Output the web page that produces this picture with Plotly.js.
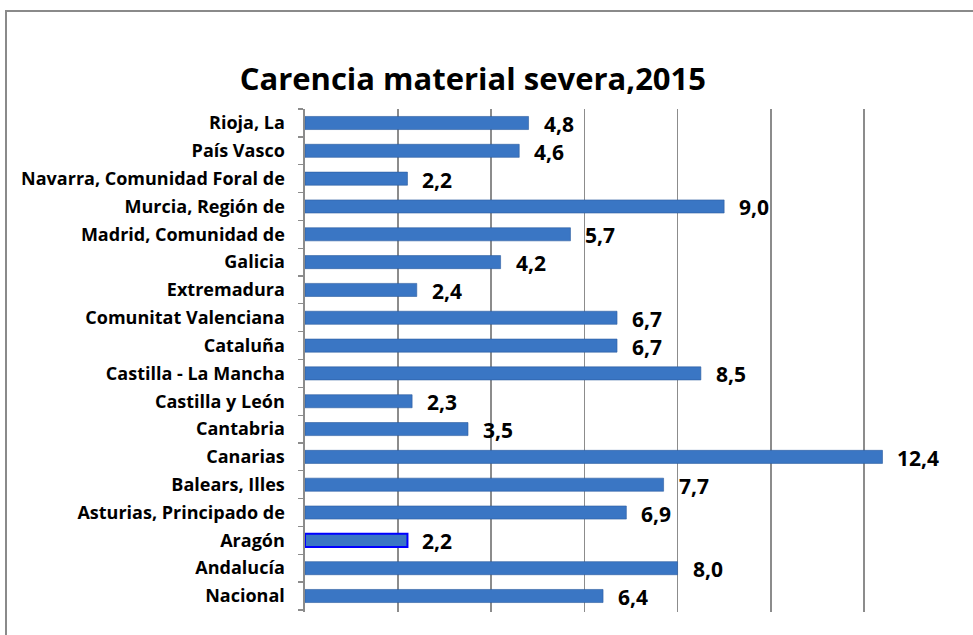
<!DOCTYPE html>
<html>
<head>
<meta charset="utf-8">
<script src="https://cdn.plot.ly/plotly-3.0.1.min.js"></script>
<style>
html,body{margin:0;padding:0;background:#fff;overflow:hidden;}
#frame{position:absolute;left:5px;top:10px;width:1100px;height:800px;border:2px solid #8a8a8a;}
#chart{position:absolute;left:0;top:0;width:973px;height:635px;}
</style>
</head>
<body>
<div id="frame"></div>
<div id="chart"></div>
<script>
const categories = ["Nacional","Andalucía","Aragón","Asturias, Principado de","Balears, Illes","Canarias","Cantabria","Castilla y León","Castilla - La Mancha","Cataluña","Comunitat Valenciana","Extremadura","Galicia","Madrid, Comunidad de","Murcia, Región de","Navarra, Comunidad Foral de","País Vasco","Rioja, La"];
const values = [6.4,8.0,2.2,6.9,7.7,12.4,3.5,2.3,8.5,6.7,6.7,2.4,4.2,5.7,9.0,2.2,4.6,4.8];
const labels = values.map(v => v.toFixed(1).replace('.', ','));
const highlight = "Aragón";

const fillColors = categories.map(c => "#3a76c4");
const lineColors = categories.map(c => c === highlight ? "#0000ff" : "#2c5d9f");
const lineWidths = categories.map(c => c === highlight ? 2 : 0.6);

const font = "'Open Sans', sans-serif";

const trace = {
  type: "bar",
  orientation: "h",
  y: categories,
  x: values,
  width: 0.47,
  marker: {color: fillColors, line: {color: lineColors, width: lineWidths}},
  hoverinfo: "none"
};

const annotations = categories.map((c, i) => ({
  x: values[i], y: c, xref: "x", yref: "y",
  text: labels[i], showarrow: false, borderpad: 0,
  xanchor: "left", xshift: 14, yshift: -1,
  font: {family: font, size: 21, color: "#000", weight: "bold"}
}));

const layout = {
  width: 973, height: 635,
  margin: {l: 305, r: 16, t: 109, b: 23},
  paper_bgcolor: "rgba(0,0,0,0)",
  plot_bgcolor: "rgba(0,0,0,0)",
  showlegend: false,
  title: {text: "<b>Carencia material severa,2015</b>", x: 0.486, xanchor: "center", y: 0.875, yanchor: "middle",
          font: {family: font, size: 31, color: "#000"}},
  xaxis: {range: [0, 14], dtick: 2, showticklabels: false, showgrid: true,
          gridcolor: "#8c8c8c", gridwidth: 1.6, zeroline: false, showline: false, fixedrange: true},
  yaxis: {type: "category", showline: true, linecolor: "#8c8c8c", linewidth: 1.6,
          ticks: "outside", ticklen: 5, tickcolor: "#8c8c8c", tickwidth: 1.2, tickson: "boundaries",
          ticklabelstandoff: 15,
          tickfont: {family: font, size: 18, color: "#000", weight: "bold"}, showgrid: false, fixedrange: true},
  annotations: annotations
};

Plotly.newPlot("chart", [trace], layout, {displayModeBar: false, staticPlot: true});
</script>
</body>
</html>
